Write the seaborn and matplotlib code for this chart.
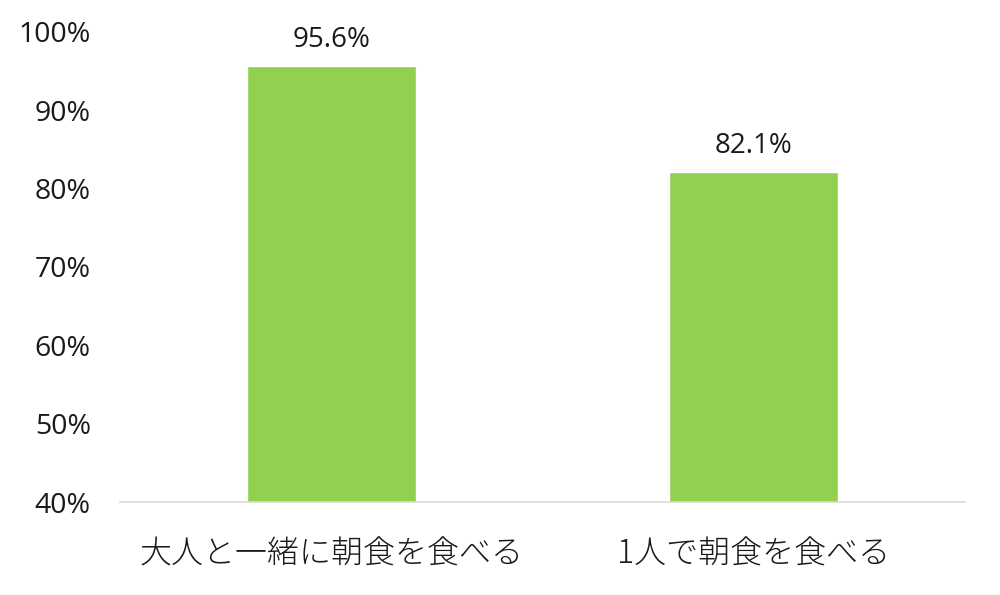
import seaborn as sns
import matplotlib.pyplot as plt
import pandas as pd

# data
categories = ['大人と一緒に朝食を食べる', '1人で朝食を食べる']
values = [95.6, 82.1]
y_ticks = [40, 50, 60, 70, 80, 90, 100]

df = pd.DataFrame({'category': categories, 'value': values})

sns.set_theme(style='white')
plt.rcParams['font.family'] = ['Open Sans', 'Noto Sans CJK JP', 'DejaVu Sans']

fig = plt.figure(figsize=(10, 5.95), dpi=100)
ax = fig.add_axes([0.12, 0.1563, 0.845, 0.79])

sns.barplot(data=df, x='category', y='value', color='#92D050', width=0.4,
            saturation=1, ax=ax)

ax.set_ylim(40, 100)
ax.set_xlim(-0.5, 1.5)
ax.set_yticks(y_ticks)
ax.set_yticklabels([f'{t}%' for t in y_ticks])
ax.set_xlabel('')
ax.set_ylabel('')

# value labels above the bars
for i, v in enumerate(values):
    ax.annotate(f'{v:.1f}%', (i, v), xytext=(0, 19), textcoords='offset points',
                ha='center', va='center', fontsize=20, color='#1a1a1a')

for side in ['top', 'right', 'left']:
    ax.spines[side].set_visible(False)
ax.spines['bottom'].set_color('#d9d9d9')
ax.spines['bottom'].set_linewidth(1.2)
ax.tick_params(axis='y', length=0, labelsize=20.5, labelcolor='#1a1a1a', pad=21)
ax.tick_params(axis='x', length=0, labelsize=23, labelcolor='#1a1a1a', pad=25)
for lbl in ax.get_xticklabels():
    lbl.set_fontfamily(['Noto Sans CJK JP', 'DejaVu Sans'])
    lbl.set_fontweight('light')

fig.savefig('out.png', dpi=100)
